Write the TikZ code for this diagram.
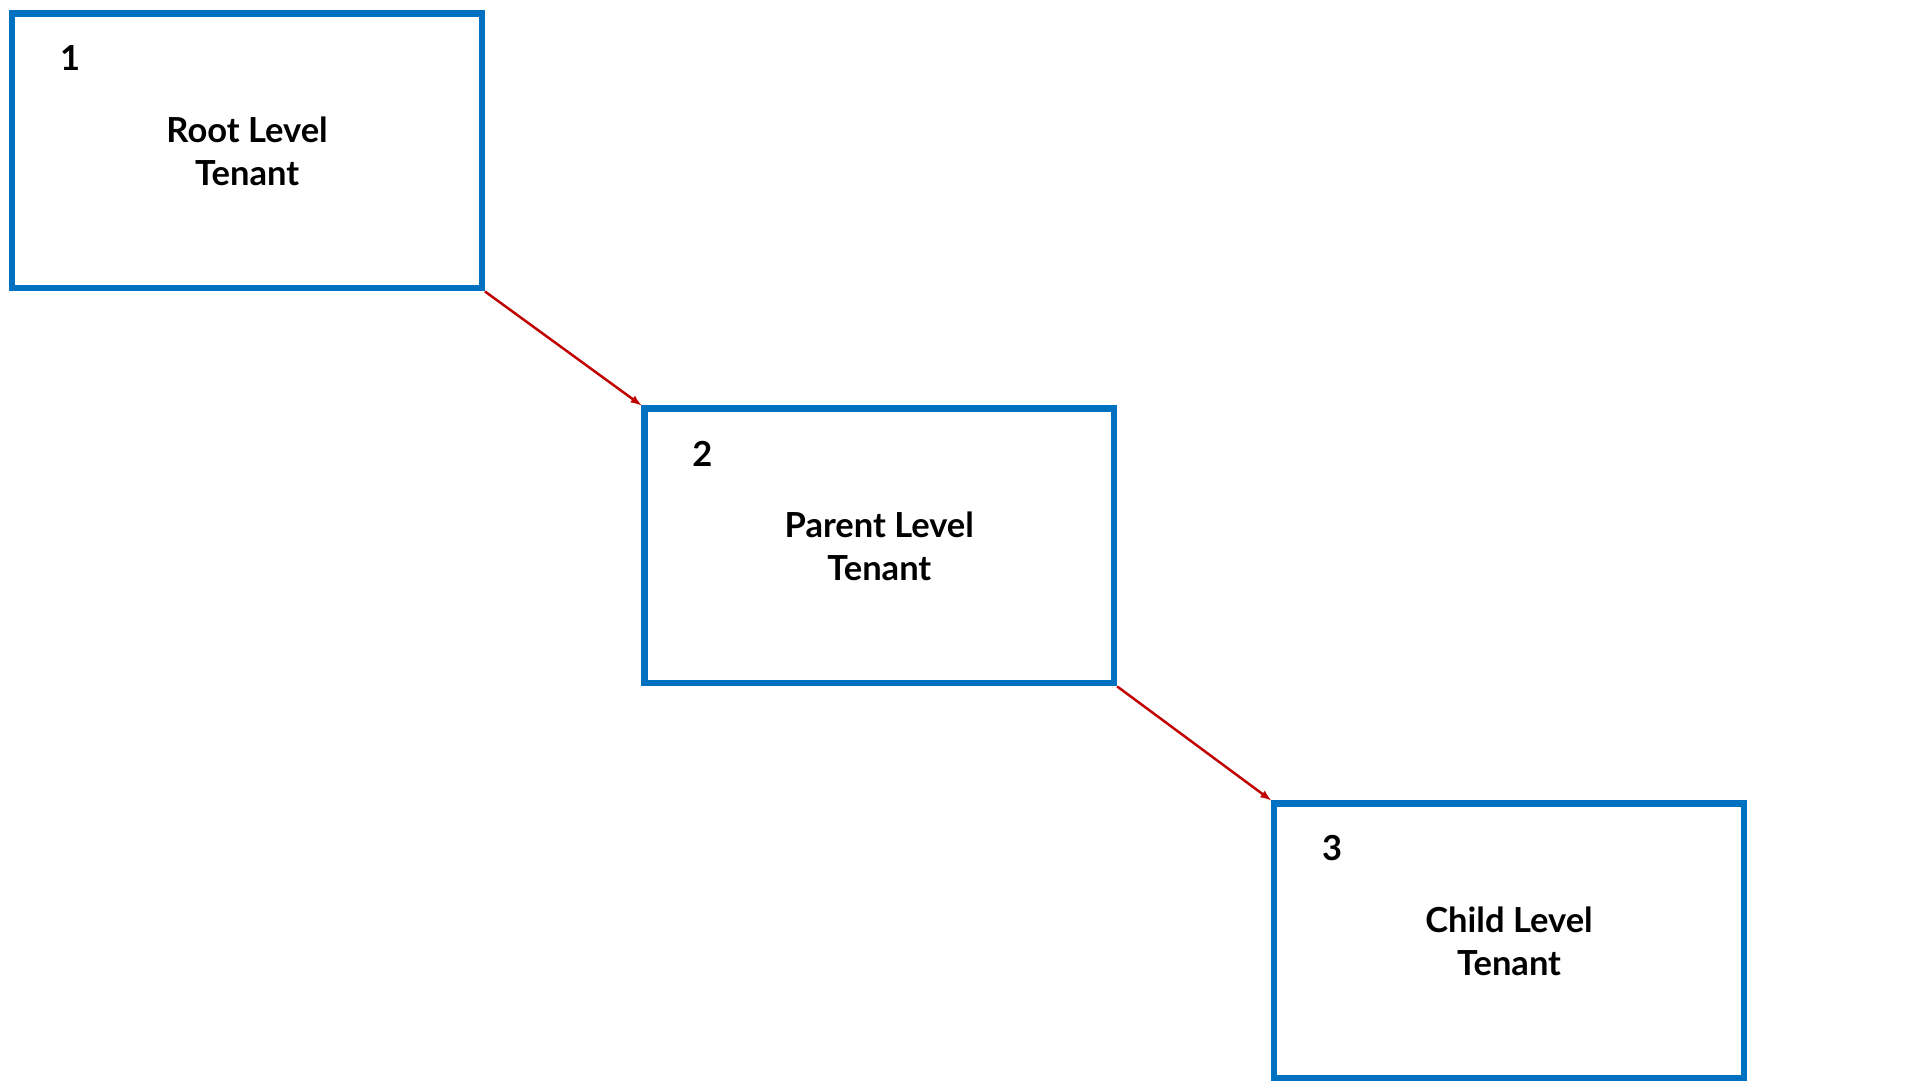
\documentclass[tikz,border=0pt]{standalone}
\usepackage{fontspec}
\setmainfont{Lato}
\usepackage{tikz}
\definecolor{tenantblue}{RGB}{0, 112, 192}
\definecolor{linkred}{RGB}{192, 0, 0}

\begin{document}
\begin{tikzpicture}[x=1pt, y=-1pt,
    tenant/.style={draw=tenantblue, line width=5pt, minimum width=381pt,
      minimum height=223pt, inner sep=0pt, align=center, font=\fontsize{28}{35}\selectfont\bfseries},
    levelnum/.style={font=\fontsize{28}{34}\selectfont\bfseries},
    link/.style={->, >=latex, draw=linkred, line width=2pt}]
    % page frame
    \useasboundingbox (0,0) rectangle (1558,877);

    % Tenant boxes
    \node[tenant] (root) at (200.5,122.5) {Root Level\\Tenant};
    \node[tenant] (parent) at (713.5,443) {Parent Level\\Tenant};
    \node[tenant] (child) at (1224.5,763.5) {Child Level\\Tenant};

    % Level numbers
    \node[levelnum] (n1) at (57,47) {1};
    \node[levelnum] (n2) at (570,368) {2};
    \node[levelnum] (n3) at (1081,688) {3};

    % Links
    \draw[link] (root.south east) -- (parent.north west);
    \draw[link] (parent.south east) -- (child.north west);
\end{tikzpicture}
\end{document}
